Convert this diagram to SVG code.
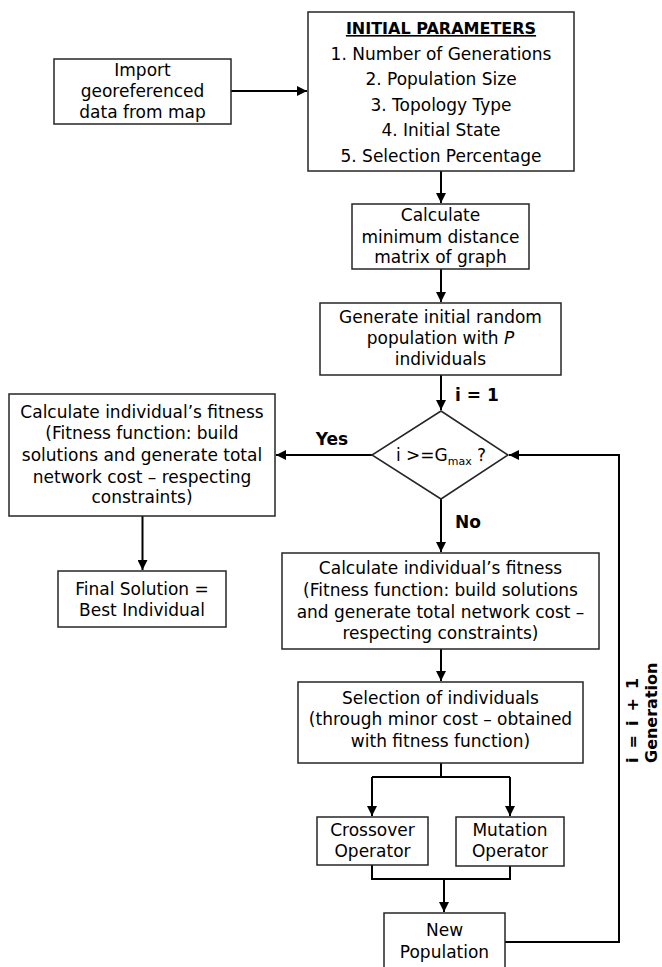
<svg xmlns="http://www.w3.org/2000/svg" width="662" height="967" viewBox="0 0 662 967">
<style>
.box{fill:#fff;stroke:#262626;stroke-width:1.5}
.t{font-family:"DejaVu Sans","Open Sans",sans-serif;font-size:17px;fill:#000;text-anchor:middle}
.b{font-weight:bold}
.ln{fill:none;stroke:#000;stroke-width:2}
</style>
<defs>
<marker id="ah" viewBox="0 0 10 10" refX="10" refY="5" markerWidth="5" markerHeight="5" orient="auto" markerUnits="strokeWidth">
<path d="M0,0 L10,5 L0,10 z" fill="#000"/>
</marker>
</defs>
<rect width="662" height="967" fill="#fff"/>
<g id="connectors">
<path class="ln" d="M231,91 H307" marker-end="url(#ah)"/>
<path class="ln" d="M441,171 V203" marker-end="url(#ah)"/>
<path class="ln" d="M441,269 V302" marker-end="url(#ah)"/>
<path class="ln" d="M441,375 V410" marker-end="url(#ah)"/>
<path class="ln" d="M372,455 H276" marker-end="url(#ah)"/>
<path class="ln" d="M142.5,516 V570" marker-end="url(#ah)"/>
<path class="ln" d="M441,499 V552" marker-end="url(#ah)"/>
<path class="ln" d="M441,649 V681" marker-end="url(#ah)"/>
<path class="ln" d="M441,763 V777"/>
<path class="ln" d="M372,777 H510"/>
<path class="ln" d="M510,777 V816" marker-end="url(#ah)"/>
<path class="ln" d="M372,777 V816" marker-end="url(#ah)"/>
<path class="ln" d="M372,865 V879 H510 V866"/>
<path class="ln" d="M444,879 V912" marker-end="url(#ah)"/>
<path class="ln" d="M505,942 H619 V455 H509" marker-end="url(#ah)"/>
<text class="t b" x="455" y="401" style="text-anchor:start">i = 1</text>
<text class="t b" x="332" y="445">Yes</text>
<text class="t b" x="455" y="528" style="text-anchor:start">No</text>
<text class="t b" transform="translate(638,763) rotate(-90)" style="text-anchor:start;font-size:16px;word-spacing:3.5px">i = i + 1</text>
<text class="t b" transform="translate(657,763) rotate(-90)" style="text-anchor:start;font-size:16px">Generation</text>
</g>
<g id="import">
<rect class="box" x="54" y="59" width="177" height="65"/>
<text class="t" x="142.5" y="75.5">Import</text>
<text class="t" x="142.5" y="97">georeferenced</text>
<text class="t" x="142.5" y="118">data from map</text>
</g>
<g id="params">
<rect class="box" x="308" y="12" width="266" height="159"/>
<text class="t b" x="441" y="34" style="font-size:16px" text-decoration="underline">INITIAL PARAMETERS</text>
<text class="t" x="441" y="59.5">1. Number of Generations</text>
<text class="t" x="441" y="85">2. Population Size</text>
<text class="t" x="441" y="110.5">3. Topology Type</text>
<text class="t" x="441" y="136">4. Initial State</text>
<text class="t" x="441" y="162">5. Selection Percentage</text>
</g>
<g id="distance">
<rect class="box" x="352" y="204" width="177" height="65"/>
<text class="t" x="440.5" y="221">Calculate</text>
<text class="t" x="440.5" y="242.5">minimum distance</text>
<text class="t" x="440.5" y="263">matrix of graph</text>
</g>
<g id="generate">
<rect class="box" x="320" y="303" width="241" height="72"/>
<text class="t" x="440.5" y="322.5">Generate initial random</text>
<text class="t" x="440.5" y="344">population with <tspan font-style="italic">P</tspan></text>
<text class="t" x="440.5" y="365">individuals</text>
</g>
<g id="decision">
<polygon class="box" points="441,411 508,455 441,499 372,455"/>
<text class="t" x="441" y="461">i &gt;=G<tspan font-size="11" dy="4">max</tspan><tspan dy="-4"> ?</tspan></text>
</g>
<g id="fitness-final">
<rect class="box" x="9" y="394" width="266" height="122"/>
<text class="t" x="142" y="418">Calculate individual’s fitness</text>
<text class="t" x="142" y="439">(Fitness function: build</text>
<text class="t" x="142" y="461">solutions and generate total</text>
<text class="t" x="142" y="482.5">network cost – respecting</text>
<text class="t" x="142" y="503">constraints)</text>
</g>
<g id="final">
<rect class="box" x="58" y="571" width="168" height="56"/>
<text class="t" x="142" y="595">Final Solution =</text>
<text class="t" x="142" y="615.5">Best Individual</text>
</g>
<g id="fitness">
<rect class="box" x="282" y="553" width="317" height="96"/>
<text class="t" x="440.5" y="574">Calculate individual’s fitness</text>
<text class="t" x="440.5" y="596">(Fitness function: build solutions</text>
<text class="t" x="440.5" y="617.5">and generate total network cost –</text>
<text class="t" x="440.5" y="639">respecting constraints)</text>
</g>
<g id="selection">
<rect class="box" x="298" y="682" width="285" height="81"/>
<text class="t" x="440.5" y="704">Selection of individuals</text>
<text class="t" x="440.5" y="725">(through minor cost – obtained</text>
<text class="t" x="440.5" y="746.5">with fitness function)</text>
</g>
<g id="crossover">
<rect class="box" x="317" y="817" width="111" height="48"/>
<text class="t" x="372.5" y="836">Crossover</text>
<text class="t" x="372.5" y="857">Operator</text>
</g>
<g id="mutation">
<rect class="box" x="456" y="817" width="108" height="49"/>
<text class="t" x="510" y="836">Mutation</text>
<text class="t" x="510" y="857">Operator</text>
</g>
<g id="newpop">
<rect class="box" x="384" y="913" width="121" height="70"/>
<text class="t" x="444.5" y="936">New</text>
<text class="t" x="444.5" y="957.5">Population</text>
</g>
</svg>
